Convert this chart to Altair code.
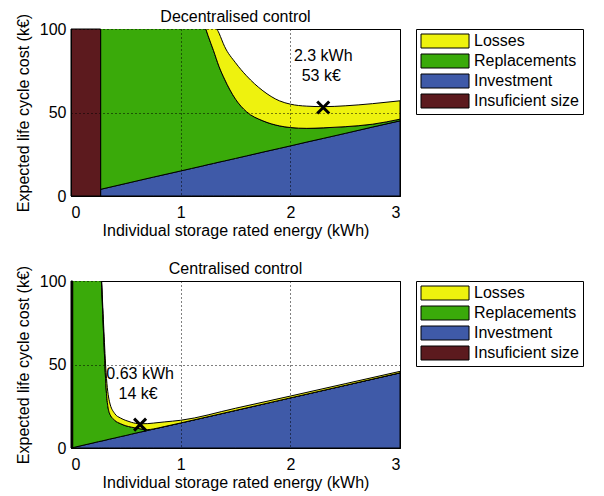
import altair as alt
import pandas as pd

SERIES = ["Losses", "Replacements", "Investment", "Insuficient size"]
COLORS = ["#eef20e", "#3aaa0a", "#3f5aa8", "#5c1a1e"]

X_TICKS = [0, 1, 2, 3]
Y_TICKS = [0, 50, 100]

# ---- Decentralised control (cumulative tops) ----
DEC_X = [0.27, 0.5, 0.75, 1.0, 1.1, 1.2, 1.25, 1.3, 1.35, 1.4, 1.5, 1.6,
         1.75, 1.9, 2.0, 2.15, 2.3, 2.5, 2.75, 3.0]
DEC_INVEST = [4.0, 7.5, 11.3, 15.0, 16.5, 18.0, 18.8, 19.5, 20.3, 21.0, 22.5,
              24.0, 26.3, 28.5, 30.0, 32.3, 34.5, 37.5, 41.3, 45.0]
DEC_REPL_TOP = [400, 300, 220, 160, 130, 106, 96, 87, 77.5, 70, 58, 50.5,
                45, 42, 41, 40.5, 40.8, 41.5, 43, 46]
DEC_LOSS_TOP = [450, 380, 300, 230, 180, 140, 120, 104.5, 97.5, 89.6, 79.8,
                72, 63, 57, 55, 53.8, 53.5, 54, 55.3, 57]
DEC_INSUF = [0.0, 0.27]
DEC_OPT = [2.3, 53]

# ---- Centralised control ----
CEN_X = [0.015, 0.1, 0.2, 0.25, 0.28, 0.3, 0.32, 0.35, 0.4, 0.45, 0.5, 0.55,
         0.63, 0.7, 0.75, 0.85, 1.0, 1.5, 2.0, 2.5, 3.0]
CEN_INVEST = [0.2, 1.5, 3.0, 3.8, 4.2, 4.5, 4.8, 5.3, 6.0, 6.8, 7.5, 8.3,
              9.5, 10.5, 11.3, 12.8, 15.0, 22.5, 30.0, 37.5, 45.0]
CEN_REPL_TOP = [900, 600, 250, 140, 96, 64, 36, 21, 16.5, 14.6, 13.3, 12.5,
                11.5, 11.0, 11.4, 12.8, 15.0, 22.5, 30.0, 37.5, 45.0]
CEN_LOSS_TOP = [950, 650, 300, 160, 100, 70, 45, 28, 20.5, 18, 16.5, 15.4,
                14.5, 14.6, 14.9, 15.6, 16.6, 23.8, 31.1, 38.5, 45.9]
CEN_INSUF = [0.0, 0.015]
CEN_OPT = [0.63, 14]

FONT = "Liberation Sans"
FS = 16

SYMBOL = "M-1,-1H5.86V1H-1Z"
XMARK = "M-1,-1L1,1M-1,1L1,-1"


def panel(title, xs, inv, repl, loss, insuf, opt):
    rows = []
    for i, x in enumerate(xs):
        rows.append({"x": x, "lo": 0, "hi": inv[i], "series": "Investment"})
        rows.append({"x": x, "lo": inv[i], "hi": repl[i], "series": "Replacements"})
        rows.append({"x": x, "lo": repl[i], "hi": loss[i], "series": "Losses"})
    df = pd.DataFrame(rows)

    xscale = alt.Scale(domain=[X_TICKS[0], X_TICKS[-1]], nice=False, zero=False)
    yscale = alt.Scale(domain=[Y_TICKS[0], Y_TICKS[-1]], nice=False)
    xaxis = alt.Axis(values=X_TICKS, title="Individual storage rated energy (kWh)",
                     zindex=1, format="d")
    yaxis = alt.Axis(values=Y_TICKS, title="Expected life cycle cost (k€)",
                     zindex=1, format="d")
    color = alt.Color("series:N",
                      scale=alt.Scale(domain=SERIES, range=COLORS),
                      sort=SERIES,
                      legend=alt.Legend(title=None, orient="right", offset=16,
                                        symbolType=SYMBOL, symbolSize=196,
                                        symbolStrokeColor="black",
                                        symbolStrokeWidth=1,
                                        symbolOpacity=1,
                                        labelOffset=38,
                                        labelFont=FONT, labelFontSize=FS,
                                        labelColor="black",
                                        rowPadding=2,
                                        padding=4,
                                        strokeColor="black",
                                        fillColor="white"))

    area = alt.Chart(df).mark_area(
        interpolate="monotone", stroke="black", strokeWidth=1, clip=True,
        opacity=1
    ).encode(
        x=alt.X("x:Q", scale=xscale, axis=xaxis),
        y=alt.Y("lo:Q", scale=yscale, axis=yaxis),
        y2="hi:Q",
        color=color,
    )

    rect_df = pd.DataFrame({"x": [insuf[0]], "x2": [insuf[1]],
                            "y": [Y_TICKS[0]], "y2": [Y_TICKS[-1]],
                            "series": ["Insuficient size"]})
    rect = alt.Chart(rect_df).mark_rect(stroke="black", strokeWidth=1).encode(
        x="x:Q", x2="x2:Q", y="y:Q", y2="y2:Q", color=color,
    )

    opt_df = pd.DataFrame({"x": [opt[0]], "y": [opt[1]],
                           "l1": [f"{opt[0]} kWh"], "l2": [f"{opt[1]} k€"]})
    marker = alt.Chart(opt_df).mark_point(
        shape=XMARK, size=144, strokeWidth=3, color="black", filled=False,
        opacity=1
    ).encode(x="x:Q", y="y:Q")
    t1 = alt.Chart(opt_df).mark_text(
        font=FONT, fontSize=FS, color="black", align="center",
        baseline="middle", dy=-51
    ).encode(x="x:Q", y="y:Q", text="l1:N")
    t2 = alt.Chart(opt_df).mark_text(
        font=FONT, fontSize=FS, color="black", align="center",
        baseline="middle", dy=-31, dx=-2
    ).encode(x="x:Q", y="y:Q", text="l2:N")

    return alt.layer(area, rect, marker, t1, t2).properties(
        width=329, height=167,
        title=alt.TitleParams(title, font=FONT, fontSize=FS, frame="group",
                              fontWeight="normal", color="black", offset=-12),
    )


top = panel("Decentralised control", DEC_X, DEC_INVEST, DEC_REPL_TOP,
            DEC_LOSS_TOP, DEC_INSUF, DEC_OPT)
bottom = panel("Centralised control", CEN_X, CEN_INVEST, CEN_REPL_TOP,
               CEN_LOSS_TOP, CEN_INSUF, CEN_OPT)

chart = alt.vconcat(top, bottom, spacing=21).resolve_scale(
    color="independent"
).resolve_legend(color="independent").properties(
    padding={"left": 6, "top": 0, "right": 5, "bottom": 0}
).configure_view(
    stroke="black", strokeWidth=1
).configure_axis(
    labelFont=FONT, titleFont=FONT, labelFontSize=FS, titleFontSize=FS,
    titleFontWeight="normal", labelColor="black", titleColor="black",
    domainColor="black", ticks=False, grid=True, gridColor="black",
    gridDash=[1, 3], gridOpacity=1, gridWidth=1,
).configure_axisX(
    labelPadding=8, titlePadding=2
).configure_axisY(
    labelPadding=5, titlePadding=8
)

chart.save("out.html", embed_options={"renderer": "svg", "actions": False})
